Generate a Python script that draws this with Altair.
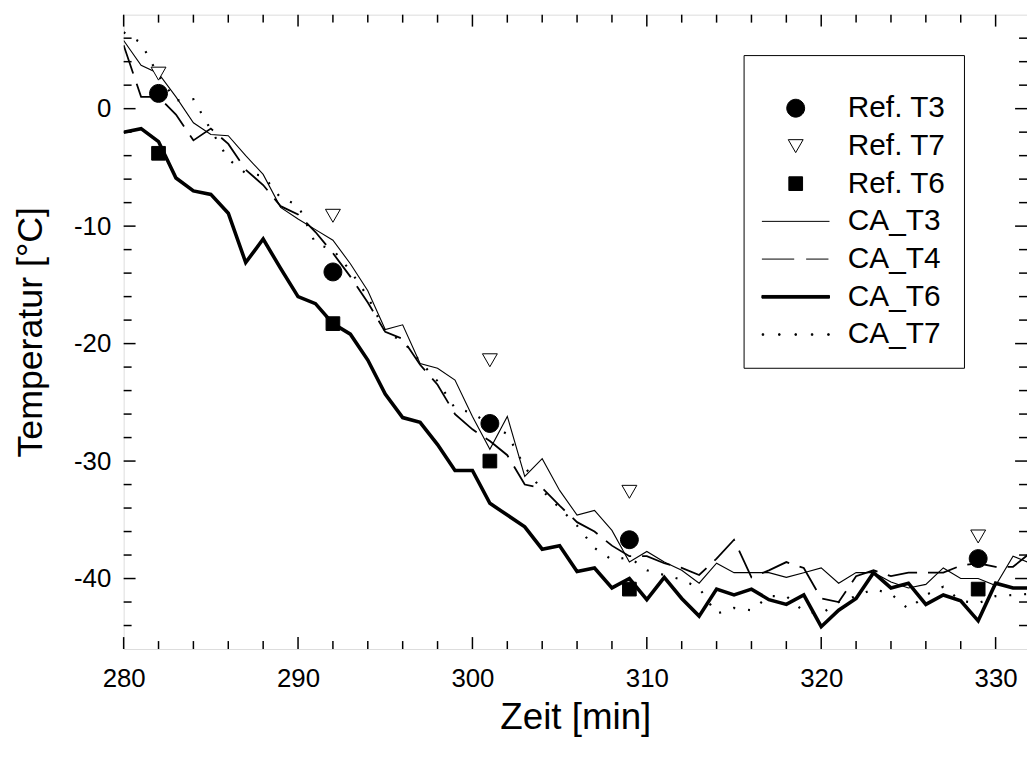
import altair as alt
import pandas as pd

# ---------------- data ----------------
minutes = list(range(280, 333))

ca_t3 = [5.8, 3.7, 3.0, 1.0, -1.2, -2.2, -2.3, -4.0, -5.6, -8.4,
         -9.4, -10.3, -11.2, -13.2, -15.5, -18.8, -18.4, -21.7, -22.1, -23.1,
         -26.2, -29.0, -26.2, -31.3, -29.8, -32.5, -34.6, -34.2, -35.9, -38.6,
         -37.7, -38.6, -39.3, -40.4, -38.7, -39.5, -39.5, -39.5, -39.9, -39.5,
         -39.1, -40.4, -39.5, -39.5, -40.3, -40.8, -40.5, -39.1, -40.0, -40.0,
         -40.6, -38.1, -38.7]

ca_t4 = [5.4, 1.0, 1.0, -0.5, -2.7, -1.7, -3.0, -5.2, -6.5, -8.3,
         -9.0, -10.5, -12.3, -14.3, -16.5, -19.0, -19.6, -21.8, -23.5, -26.0,
         -27.3, -28.3, -29.5, -32.0, -32.3, -33.8, -35.2, -36.0, -37.2, -38.1,
         -38.1, -38.7, -39.1, -39.7, -38.3, -36.7, -39.9, -39.3, -38.6, -39.1,
         -41.7, -42.0, -39.8, -39.3, -39.8, -39.5, -39.5, -39.5, -38.9, -38.7,
         -39.0, -39.0, -37.8]

ca_t6 = [-2.0, -1.7, -2.8, -5.9, -7.0, -7.3, -8.9, -13.1, -11.1, -13.6,
         -16.0, -16.6, -18.3, -19.2, -21.4, -24.3, -26.3, -26.7, -28.6, -30.8,
         -30.8, -33.6, -34.6, -35.6, -37.5, -37.2, -39.4, -39.1, -40.8, -40.0,
         -41.8, -39.9, -41.7, -43.2, -40.9, -41.4, -40.9, -41.8, -42.2, -41.4,
         -44.1, -42.7, -41.7, -39.5, -40.8, -40.4, -42.2, -41.4, -41.9, -43.6,
         -40.4, -40.8, -40.8]

ca_t7 = [6.5, 5.6, 2.8, 0.7, 0.8, -1.8, -4.3, -5.5, -5.7, -7.6,
         -8.2, -11.5, -12.0, -13.8, -16.0, -19.0, -19.8, -21.5, -23.2, -25.5,
         -25.9, -26.9, -27.7, -30.5, -32.5, -34.0, -35.5, -37.4, -38.4, -38.2,
         -39.3, -39.7, -40.1, -40.8, -43.0, -42.5, -42.7, -41.5, -41.5, -42.8,
         -43.0, -42.0, -41.5, -40.9, -41.3, -42.6, -41.4, -40.7, -41.9, -42.1,
         -41.5, -41.4, -41.3]

ref_minutes = [282, 292, 301, 309, 329]
ref_t3 = [1.3, -13.9, -26.8, -36.7, -38.3]
ref_t7 = [3.0, -9.1, -21.4, -32.6, -36.4]
ref_t6 = [-3.8, -18.3, -30.0, -40.9, -40.9]

series_names = ["Ref. T3", "Ref. T7", "Ref. T6", "CA_T3", "CA_T4", "CA_T6", "CA_T7"]

x_major = [280, 290, 300, 310, 320, 330]
x_minor = [v for v in range(282, 332, 2) if v % 10]
y_major = [-40, -30, -20, -10, 0]
y_minor = [v for v in range(-44, 8, 2) if v % 10]

# ---------------- tables ----------------
lines_df = pd.concat([
    pd.DataFrame({"minute": minutes, "temp": vals, "series": name})
    for name, vals in [("CA_T3", ca_t3), ("CA_T4", ca_t4), ("CA_T6", ca_t6), ("CA_T7", ca_t7)]
], ignore_index=True)

ref_df = pd.concat([
    pd.DataFrame({"minute": ref_minutes, "temp": vals, "series": name})
    for name, vals in [("Ref. T3", ref_t3), ("Ref. T7", ref_t7), ("Ref. T6", ref_t6)]
], ignore_index=True)

# ---------------- styling ----------------
W, H = 910, 639
FONT = "Liberation Sans"
X_TITLE = "Zeit [min]"
Y_TITLE = "Temperatur [°C]"

xs = alt.Scale(domain=[280, 331.8], nice=False, zero=False)
ys = alt.Scale(domain=[-46, 8], nice=False, zero=False)

x_axis = alt.Axis(values=x_major, ticks=False, domain=False, grid=False,
                  labelExpr="'' + datum.value", labelFlush=False,
                  labelFont=FONT, labelFontSize=26, labelColor="black", labelPadding=17,
                  titleFont=FONT, titleFontSize=37, titleFontWeight="normal",
                  titleColor="black", titlePadding=8)
y_axis = alt.Axis(values=y_major, ticks=False, domain=False, grid=False,
                  labelExpr="'' + datum.value", labelFlush=False,
                  labelFont=FONT, labelFontSize=26, labelColor="black", labelPadding=13,
                  titleFont=FONT, titleFontSize=36, titleFontWeight="normal",
                  titleColor="black", titlePadding=24)


def X(field):
    return alt.X(field, scale=xs, axis=x_axis, title=X_TITLE)


def Y(field):
    return alt.Y(field, scale=ys, axis=y_axis, title=Y_TITLE)


# legend symbols: custom paths (unit = 15 px at size 900)
shape_paths = [
    "M0.6,0A0.6,0.6,0,1,1,-0.6,0A0.6,0.6,0,1,1,0.6,0Z",
    "M-0.5,-0.42L0.5,-0.42L0,0.45Z",
    "M-0.46,-0.46H0.46V0.46H-0.46Z",
    "M-2.27,0H2.27",
    "M-2.27,0H-0.1M0.7,0H2.2",
    "M-2.27,-0.09H2.27V0.09H-2.27Z",
    "M-2.25,-0.05h0.1v0.1h-0.1ZM-1.15,-0.05h0.1v0.1h-0.1ZM-0.05,-0.05h0.1v0.1h-0.1Z"
    "M1.05,-0.05h0.1v0.1h-0.1ZM2.15,-0.05h0.1v0.1h-0.1Z",
]
fill_colors = ["black", "white", "black", "black", "black", "black", "black"]
stroke_colors = ["black"] * 7

leg = alt.Legend(title=" ", titleFontSize=18, titlePadding=2, orient="none",
                 legendX=624.5, legendY=40.7, strokeColor="black", padding=18,
                 labelFont=FONT, labelFontSize=30, labelColor="black",
                 labelExpr="datum.label + '\u00a0'",
                 symbolSize=900, symbolStrokeColor="black", symbolStrokeWidth=1,
                 rowPadding=7, symbolOffset=19, labelOffset=37)


def line_layer(name, **style):
    return (alt.Chart(lines_df)
            .transform_filter(alt.datum.series == name)
            .mark_line(color="black", clip=True, **style)
            .encode(x=X("minute:Q"), y=Y("temp:Q")))


def xticks(vals, length):
    base = alt.Chart(pd.DataFrame({"v": vals})).mark_rule(color="black", strokeWidth=1.5)
    return [base.encode(x=X("v:Q"), y=alt.value(H), y2=alt.value(H - length)),
            base.encode(x=X("v:Q"), y=alt.value(0), y2=alt.value(length))]


def yticks(vals, length):
    base = alt.Chart(pd.DataFrame({"v": vals})).mark_rule(color="black", strokeWidth=1.5)
    return [base.encode(y=Y("v:Q"), x=alt.value(0), x2=alt.value(length)),
            base.encode(y=Y("v:Q"), x=alt.value(W), x2=alt.value(W - length))]


lines = [
    line_layer("CA_T3", strokeWidth=1.1),
    line_layer("CA_T4", strokeWidth=1.8, strokeDash=[30, 11]),
    line_layer("CA_T6", strokeWidth=3.6, strokeJoin="miter"),
    line_layer("CA_T7", strokeWidth=2.2, strokeDash=[2, 13]),
]

points = (alt.Chart(ref_df)
          .mark_point(filled=True, size=900, stroke="black", strokeWidth=1, opacity=1)
          .encode(x=X("minute:Q"),
                  y=Y("temp:Q"),
                  shape=alt.Shape("series:N", scale=alt.Scale(domain=series_names, range=shape_paths),
                                  legend=leg),
                  fill=alt.Fill("series:N", scale=alt.Scale(domain=series_names, range=fill_colors),
                                legend=leg),
                  stroke=alt.Stroke("series:N", scale=alt.Scale(domain=series_names, range=stroke_colors),
                                    legend=leg)))

layers = lines + xticks(x_major, 12) + xticks(x_minor, 8) + yticks(y_major, 12) + yticks(y_minor, 8) + [points]

chart = (alt.layer(*layers)
         .properties(width=W, height=H,
                     autosize=alt.AutoSizeParams(type="none"),
                     padding={"left": 116.5, "top": 4, "right": 0, "bottom": 99})
         .configure_view(stroke="black", strokeWidth=1.5)
         .configure(background="white"))

chart.save("out.html", embed_options={"renderer": "svg", "actions": False})
